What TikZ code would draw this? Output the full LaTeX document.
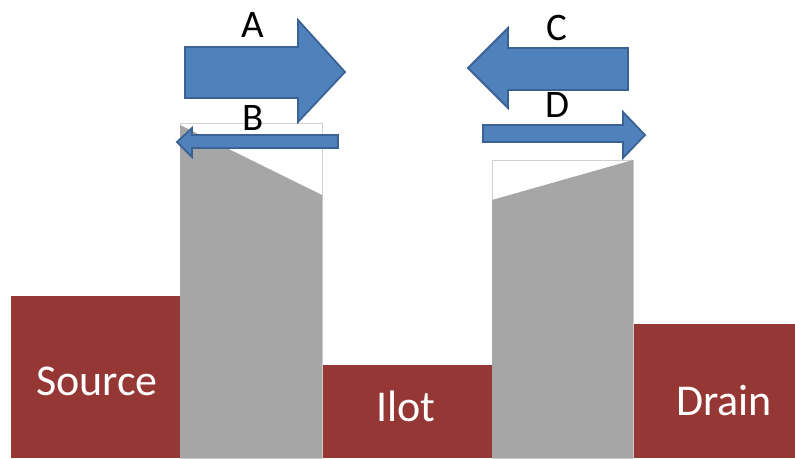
\documentclass[tikz,border=0pt]{standalone}
\usepackage{fontspec}
\setmainfont{Carlito}
\definecolor{arrowfill}{HTML}{4F81BD}
\definecolor{arrowline}{HTML}{3A6393}
\definecolor{regionred}{HTML}{953735}
\definecolor{barriergray}{HTML}{A6A6A6}
\definecolor{frameline}{HTML}{D0D0D0}
\tikzset{
  bigarrow/.style={fill=arrowfill, draw=arrowline, line width=1.8pt, line join=miter},
  region/.style={fill=regionred, draw=none},
  barrier/.style={fill=barriergray, draw=none},
  frame/.style={draw=frameline, line width=0.8pt, fill=white},
  regionlabel/.style={text=white, font=\fontsize{44}{50}\selectfont, anchor=base, inner sep=0pt},
  arrowlabel/.style={text=black, font=\fontsize{39}{45}\selectfont, anchor=base, inner sep=0pt}
}
\begin{document}
\begin{tikzpicture}[x=1pt,y=-1pt]
\useasboundingbox (0,0) rectangle (795,458);
% regions
\fill[region] (11,296) rectangle (180,458);
\fill[region] (322,365) rectangle (492,458);
\fill[region] (634,324) rectangle (795,458);
% barriers
\draw[frame] (180,123) rectangle (322,458);
\fill[barrier] (180,125) -- (322,195) -- (322,458) -- (180,458) -- cycle;
\draw[frame] (492,160) rectangle (633,458);
\fill[barrier] (492,200) -- (633,160) -- (633,458) -- (492,458) -- cycle;
% arrows
\draw[bigarrow] (185,47) -- (298,47) -- (298,20) -- (345,72) -- (298,122) -- (298,98) -- (185,98) -- cycle;
\draw[bigarrow] (338,135) -- (192,135) -- (192,128) -- (177,142) -- (192,157) -- (192,148) -- (338,148) -- cycle;
\draw[bigarrow] (628,48) -- (508,48) -- (508,28) -- (468,68) -- (508,108) -- (508,90) -- (628,90) -- cycle;
\draw[bigarrow] (483,125) -- (623,125) -- (623,112) -- (645,135) -- (623,158) -- (623,142) -- (483,142) -- cycle;
% labels
\node[arrowlabel] (la) at (253,37) {A};
\node[arrowlabel] (lb) at (253,130) {B};
\node[arrowlabel] (lc) at (557,40) {C};
\node[arrowlabel] (ld) at (557,117) {D};
\node[regionlabel] (src) at (97,395) {Source};
\node[regionlabel] (ilot) at (406,421) {Ilot};
\node[regionlabel] (drn) at (724,415) {Drain};
\end{tikzpicture}
\end{document}
